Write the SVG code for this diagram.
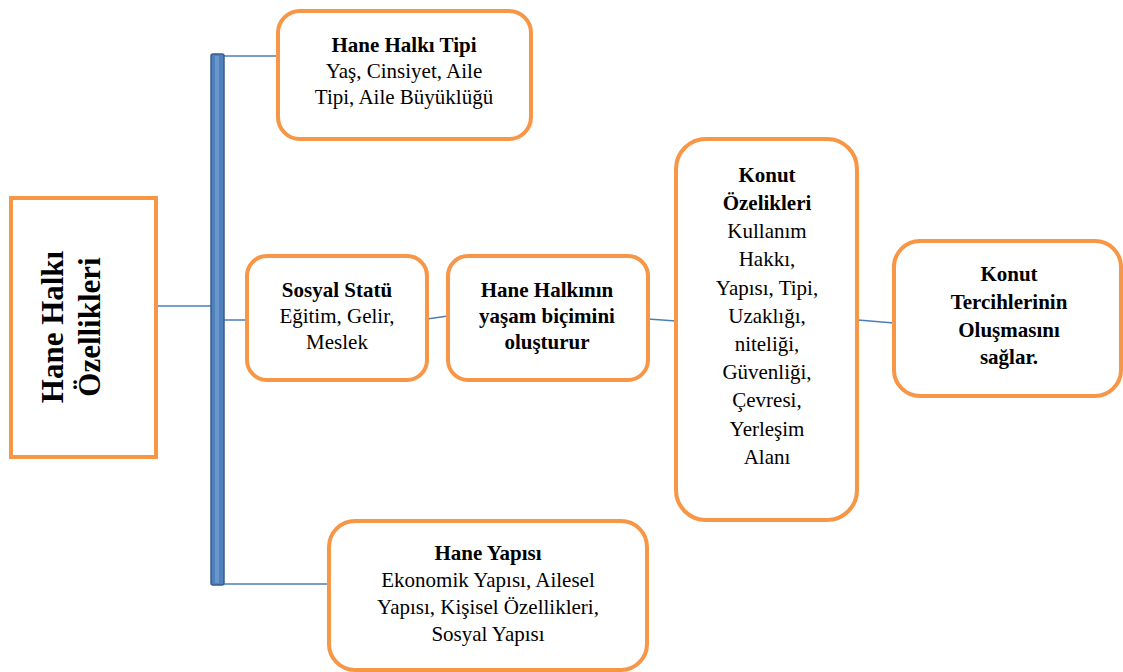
<svg xmlns="http://www.w3.org/2000/svg" width="1123" height="672" viewBox="0 0 1123 672">
<style>
.box{fill:#fff;stroke:#F79646;stroke-width:4}
.t{font-family:"Liberation Serif","Times New Roman",serif;font-size:21px;fill:#000;text-anchor:middle}
.b{font-weight:bold}
.big{font-size:31px}
.c{stroke:#4A7EBB;stroke-width:1.5;fill:none}
</style>
<rect width="1123" height="672" fill="#fff"/>
<g id="connectors">
<line class="c" x1="158" y1="306" x2="211" y2="306"/>
<line class="c" x1="223" y1="56" x2="278" y2="56"/>
<line class="c" x1="223" y1="320" x2="247" y2="320"/>
<line class="c" x1="223" y1="584" x2="329" y2="584"/>
<line class="c" x1="427" y1="319" x2="448" y2="316"/>
<line class="c" x1="648" y1="319" x2="676" y2="321"/>
<line class="c" x1="858" y1="320" x2="894" y2="323"/>
</g>
<g id="bar">
<rect x="211" y="54" width="13" height="531" rx="2" fill="#4F81BD" stroke="#385D8A" stroke-width="1.5"/>
<rect x="215" y="56" width="4" height="527" fill="#6A96CC"/>
</g>
<g id="hane-halki-ozellikleri">
<rect class="box" x="11" y="198" width="145" height="259"/>
<text class="t b big" transform="translate(63,327) rotate(-90)">Hane Halkı</text>
<text class="t b big" transform="translate(100,327) rotate(-90)">Özellikleri</text>
</g>
<g id="hane-halki-tipi">
<rect class="box" x="278" y="11" width="253" height="128" rx="22"/>
<text class="t b" x="404" y="52">Hane Halkı Tipi</text>
<text class="t" x="404" y="78">Yaş, Cinsiyet, Aile</text>
<text class="t" x="404" y="104">Tipi, Aile Büyüklüğü</text>
</g>
<g id="sosyal-statu">
<rect class="box" x="247" y="256" width="180" height="124" rx="20"/>
<text class="t b" x="337" y="297">Sosyal Statü</text>
<text class="t" x="337" y="323">Eğitim, Gelir,</text>
<text class="t" x="337" y="349">Meslek</text>
</g>
<g id="hane-halkinin">
<rect class="box" x="448" y="256" width="200" height="124" rx="20"/>
<text class="t b" x="547" y="297">Hane Halkının</text>
<text class="t b" x="547" y="323">yaşam biçimini</text>
<text class="t b" x="547" y="349">oluşturur</text>
</g>
<g id="konut-ozelikleri">
<rect class="box" x="676" y="139" width="181" height="381" rx="30"/>
<text class="t b" x="767" y="182">Konut</text>
<text class="t b" x="767" y="210">Özelikleri</text>
<text class="t" x="767" y="238">Kullanım</text>
<text class="t" x="767" y="266">Hakkı,</text>
<text class="t" x="767" y="295">Yapısı, Tipi,</text>
<text class="t" x="767" y="323">Uzaklığı,</text>
<text class="t" x="767" y="351">niteliği,</text>
<text class="t" x="767" y="379">Güvenliği,</text>
<text class="t" x="767" y="407">Çevresi,</text>
<text class="t" x="767" y="436">Yerleşim</text>
<text class="t" x="767" y="464">Alanı</text>
</g>
<g id="konut-tercihleri">
<rect class="box" x="894" y="241" width="227" height="155" rx="26"/>
<text class="t b" x="1009" y="281">Konut</text>
<text class="t b" x="1009" y="309">Tercihlerinin</text>
<text class="t b" x="1009" y="337">Oluşmasını</text>
<text class="t b" x="1009" y="364">sağlar.</text>
</g>
<g id="hane-yapisi">
<rect class="box" x="329" y="521" width="318" height="149" rx="26"/>
<text class="t b" x="488" y="560">Hane Yapısı</text>
<text class="t" x="488" y="587">Ekonomik Yapısı, Ailesel</text>
<text class="t" x="488" y="614">Yapısı, Kişisel Özellikleri,</text>
<text class="t" x="488" y="641">Sosyal Yapısı</text>
</g>
</svg>
